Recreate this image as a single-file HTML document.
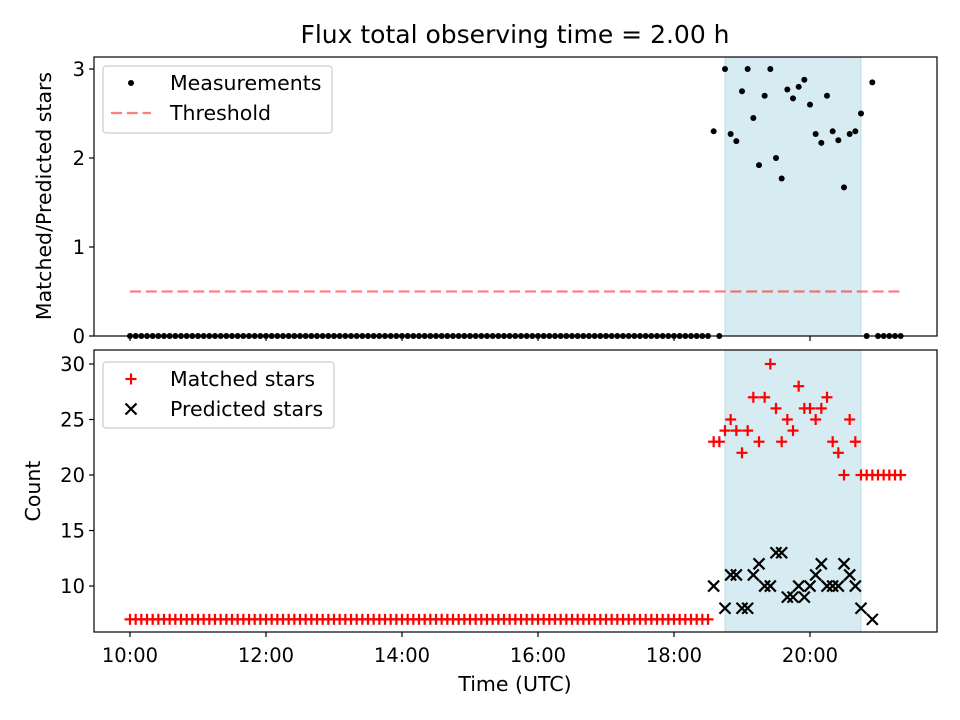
<!DOCTYPE html>
<html><head><meta charset="utf-8"><style>
body{margin:0;background:#fff;}
svg{display:block;font-family:"DejaVu Sans","Liberation Sans",sans-serif;}
</style></head><body>
<svg id="chart" width="960" height="720" viewBox="0 0 960 720"></svg>
<script>
const startHour = 10, stepMin = 5, nPoints = 137;
const ratioTail = [2.3,0,3.0,2.27,2.19,2.75,3.0,2.45,1.92,2.7,3.0,2.0,1.77,2.77,2.67,2.8,2.88,2.6,2.27,2.17,2.7,2.3,2.2,1.67,2.27,2.3,2.5,0,2.85,0,0,0,0,0];
const matchedTail = [23,23,24,25,24,22,24,27,23,27,30,26,23,25,24,28,26,26,25,26,27,23,22,20,25,23,20,20,20,20,20,20,20,20];
const predictedTail = [10,0,8,11,11,8,8,11,12,10,10,13,13,9,9,10,9,10,11,12,10,10,10,12,11,10,8,0,7,0,0,0,0,0];
const ratioHead = 0, matchedHead = 7, predictedHead = 0;
const threshold = 0.5;
const spanStart = 18.75, spanEnd = 20.75;
const xTicks = [10,12,14,16,18,20];
const xTickLabels = ["10:00","12:00","14:00","16:00","18:00","20:00"];
const topYTicks = [0,1,2,3];
const botYTicks = [10,15,20,25,30];

const headN = nPoints - ratioTail.length;
const times = [], ratio = [], matched = [], predicted = [];
for (let i=0;i<nPoints;i++){
  times.push(startHour + i*stepMin/60);
  if (i<headN){ratio.push(ratioHead);matched.push(matchedHead);predicted.push(predictedHead);}
  else {ratio.push(ratioTail[i-headN]);matched.push(matchedTail[i-headN]);predicted.push(predictedTail[i-headN]);}
}

const NS="http://www.w3.org/2000/svg";
const svg=document.getElementById('chart');
function mk(tag,attrs,parent){const e=document.createElementNS(NS,tag);for(const k in attrs)e.setAttribute(k,attrs[k]);(parent||svg).appendChild(e);return e;}

const TICKFS=19.5, LABFS=20.5, TITLEFS=25;
const L=94,R=937;
const xS=h=>130+(h-10)*68;
const T={top:57,bot:336,min:0,max:3.135};
const B={top:350,bot:632,min:5.86,max:31.26};
const yS=(ax,v)=>ax.bot-(v-ax.min)/(ax.max-ax.min)*(ax.bot-ax.top);

let t=mk('text',{x:515,y:43,'text-anchor':'middle','font-size':TITLEFS,fill:'#000'});t.textContent='Flux total observing time = 2.00 h';



function drawAxes(ax,name,yTicks,showX){
  const g=mk('g',{});
  
  
  const clipId='clip-'+name;
  const cp=mk('clipPath',{id:clipId},g);mk('rect',{x:L,y:ax.top,width:R-L,height:ax.bot-ax.top},cp);
  const span=mk('rect',{x:xS(spanStart),y:ax.top,width:xS(spanEnd)-xS(spanStart),height:ax.bot-ax.top,fill:'#add8e6','fill-opacity':0.5,stroke:'#add8e6','stroke-opacity':0.8},g);
  
  
  yTicks.forEach(v=>{
    const y=yS(ax,v);
    mk('line',{x1:L-5,x2:L,y1:y,y2:y,stroke:'#000','stroke-width':1.2},g);
    const tx=mk('text',{x:L-9,y:y+7,'text-anchor':'end','font-size':TICKFS},g);tx.textContent=v;
    
    
  });
  xTicks.forEach((h,i)=>{
    const x=xS(h);
    mk('line',{x1:x,x2:x,y1:ax.bot,y2:ax.bot+5,stroke:'#000','stroke-width':1.2},g);
    if(showX){const tx=mk('text',{x:x,y:ax.bot+30,'text-anchor':'middle','font-size':TICKFS},g);tx.textContent=xTickLabels[i];
      
      }
  });
  const plot=mk('g',{'clip-path':'url(#'+clipId+')'},g);
  return {g,plot};
}

const topAx=drawAxes(T,'top-axes',topYTicks,false);
const botAx=drawAxes(B,'bottom-axes',botYTicks,true);

const th=mk('line',{x1:xS(times[0]),x2:xS(times[nPoints-1]),y1:yS(T,threshold),y2:yS(T,threshold),stroke:'#ff0000','stroke-opacity':0.5,'stroke-width':2.25,'stroke-dasharray':'11,4.8'},topAx.g);



times.forEach((h,i)=>{
  const c=mk('circle',{cx:xS(h),cy:yS(T,ratio[i]),r:3,fill:'#000'},topAx.g);
  
  
});

function plus(x,y,p){const g=mk('g',{stroke:'#f00','stroke-width':2.2},p);mk('line',{x1:x-5.5,x2:x+5.5,y1:y,y2:y},g);mk('line',{x1:x,x2:x,y1:y-5.5,y2:y+5.5},g);return g;}
function cross(x,y,p){const g=mk('g',{stroke:'#000','stroke-width':2.2},p);mk('line',{x1:x-5.5,x2:x+5.5,y1:y-5.5,y2:y+5.5},g);mk('line',{x1:x-5.5,x2:x+5.5,y1:y+5.5,y2:y-5.5},g);return g;}
times.forEach((h,i)=>{
  const m=plus(xS(h),yS(B,matched[i]),botAx.plot);
  
  
});
times.forEach((h,i)=>{
  const p=cross(xS(h),yS(B,predicted[i]),botAx.plot);
  
  
});

[T,B].forEach(ax=>mk('rect',{x:L,y:ax.top,width:R-L,height:ax.bot-ax.top,fill:'none',stroke:'#000','stroke-width':1.2}));

let yl=mk('text',{x:0,y:0,'text-anchor':'middle','font-size':LABFS,transform:'translate(51,196) rotate(-90)'});yl.textContent='Matched/Predicted stars';


let yl2=mk('text',{x:0,y:0,'text-anchor':'middle','font-size':LABFS,transform:'translate(40,491) rotate(-90)'});yl2.textContent='Count';


let xl=mk('text',{x:515,y:691,'text-anchor':'middle','font-size':LABFS});xl.textContent='Time (UTC)';



function legend(x,y,w,h,name,entries){
  const g=mk('g',{});
  
  
  mk('rect',{x:x,y:y,width:w,height:h,rx:3,fill:'#fff','fill-opacity':0.8,stroke:'#ccc','stroke-width':1.2},g);
  entries.forEach((e,i)=>{
    const cy=y+17+i*30;
    const eg=mk('g',{},g);
    
    
    e.draw(x+28,cy,eg);
    const tx=mk('text',{x:x+67,y:cy+7,'font-size':LABFS},eg);tx.textContent=e.label;
  });
}
legend(103,66,229,67,'top-legend',[
  {label:'Measurements',draw:(x,y,p)=>mk('circle',{cx:x,cy:y,r:3,fill:'#000'},p)},
  {label:'Threshold',draw:(x,y,p)=>mk('line',{x1:x-20,x2:x+20,y1:y,y2:y,stroke:'#f00','stroke-opacity':0.5,'stroke-width':2.25,'stroke-dasharray':'11,4.8'},p)}
]);
legend(103,362,231,66,'bottom-legend',[
  {label:'Matched stars',draw:(x,y,p)=>plus(x,y,p)},
  {label:'Predicted stars',draw:(x,y,p)=>cross(x,y,p)}
]);
</script>
</body></html>
